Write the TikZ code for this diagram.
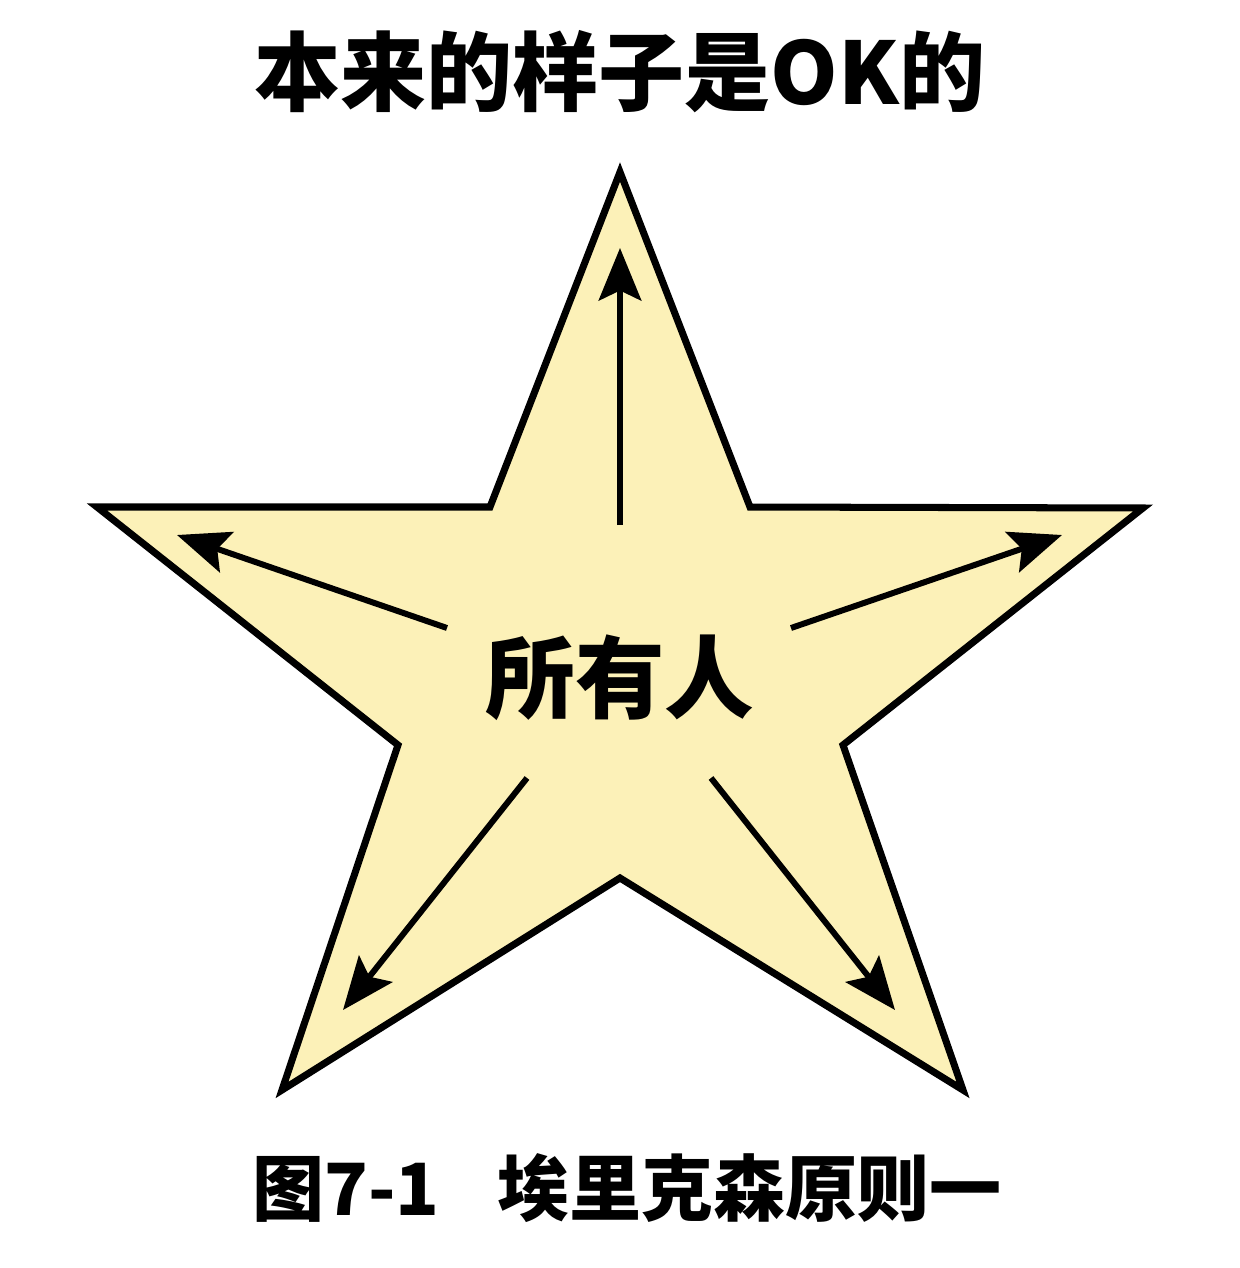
\documentclass[tikz,border=0pt]{standalone}
\usepackage{fontspec}
\newfontfamily\cjk{Noto Sans CJK SC}
\usetikzlibrary{arrows.meta}
\definecolor{stella}{RGB}{252,241,184}
\tikzset{
  bordo/.style={line width=4pt, line join=miter, draw=black, fill=stella},
  freccia/.style={-{Stealth[length=1.05cm, width=0.85cm, inset=0.2cm]}, line width=3.4pt},
  titolo/.style={font=\cjk\bfseries\fontsize{49}{55}\selectfont}
}
\begin{document}
\begin{tikzpicture}[x=0.02cm, y=-0.02cm]
        \useasboundingbox (0,0) rectangle (1240,1268);

        % =========================================
        % === Titolo ===
        % =========================================
        \node[titolo] (tit) at (620, 72) {本来的样子是OK的};

        % =========================================
        % === Stella ===
        % =========================================
        % Vertici esterni
        \coordinate (vA) at (620, 172);
        \coordinate (vB) at (1143, 508);
        \coordinate (vC) at (963, 1090);
        \coordinate (vD) at (282, 1090);
        \coordinate (vE) at (97, 507);
        % Vertici interni
        \coordinate (iA) at (750, 507);
        \coordinate (iB) at (843, 745);
        \coordinate (iC) at (620, 878);
        \coordinate (iD) at (398, 745);
        \coordinate (iE) at (490, 507);

        \draw[bordo] (vA) -- (iA) -- (vB) -- (iB) -- (vC) -- (iC) -- (vD) -- (iD) -- (vE) -- (iE) -- cycle;

        % Testo centrale
        \node[font=\cjk\bfseries\fontsize{51}{57}\selectfont] (tutti) at (620, 678) {所有人};

        % Partenze e punte delle frecce
        \coordinate (sA) at (620, 525);  \coordinate (pA) at (620, 248);
        \coordinate (sB) at (791, 628);  \coordinate (pB) at (1062, 535);
        \coordinate (sC) at (711, 778);  \coordinate (pC) at (895, 1010);
        \coordinate (sD) at (527, 778);  \coordinate (pD) at (343, 1010);
        \coordinate (sE) at (447, 628);  \coordinate (pE) at (177, 535);

        % Frecce verso le punte
        \foreach \k in {A,B,C,D,E}
          \draw[freccia] (s\k) -- (p\k);

        % =========================================
        % === Didascalia ===
        % =========================================
        \node[font=\cjk\bfseries\fontsize{41}{47}\selectfont] (dida) at (627, 1188) {图7-1\hspace{0.8em}埃里克森原则一};

    \end{tikzpicture}
\end{document}
